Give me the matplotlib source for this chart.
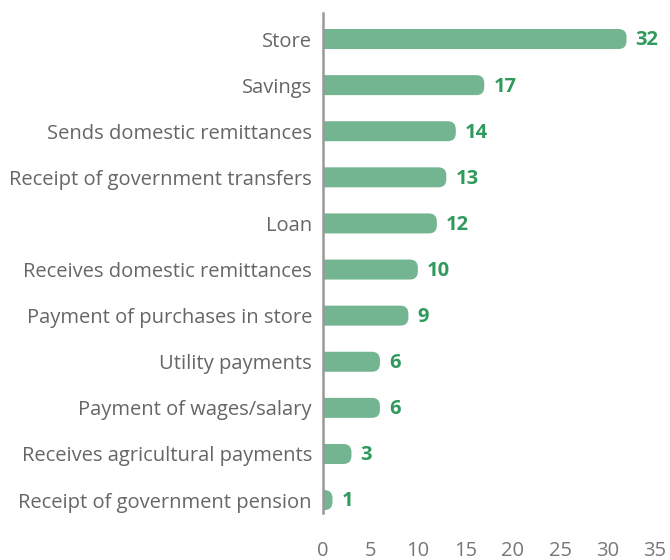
import numpy as np
import matplotlib
matplotlib.use("Agg")
import matplotlib.pyplot as plt
from matplotlib.path import Path
from matplotlib.patches import PathPatch

categories = [
    "Store",
    "Savings",
    "Sends domestic remittances",
    "Receipt of government transfers",
    "Loan",
    "Receives domestic remittances",
    "Payment of purchases in store",
    "Utility payments",
    "Payment of wages/salary",
    "Receives agricultural payments",
    "Receipt of government pension",
]
values = [32, 17, 14, 13, 12, 10, 9, 6, 6, 3, 1]
xticks = [0, 5, 10, 15, 20, 25, 30, 35]

BAR_COLOR = "#74b591"
VALUE_COLOR = "#2f9a5c"
LABEL_COLOR = "#666666"
TICK_COLOR = "#777777"
FONT = ["Open Sans", "DejaVu Sans"]

W, H, DPI = 670, 560, 100
fig = plt.figure(figsize=(W / DPI, H / DPI), dpi=DPI)
left, right = 323 / W, 655 / W
bottom, top = 1 - 513 / H, 1 - 13 / H
ax = fig.add_axes([left, bottom, right - left, top - bottom])

n = len(categories)
ypos = np.arange(n)
xmin, xmax = 0, 35
ymin, ymax = n - 1 + 0.28, -0.564
ax.set_xlim(xmin, xmax)
ax.set_ylim(ymin, ymax)

# pixel-per-unit factors for corner radii
ax_w_px = (right - left) * W
ax_h_px = (top - bottom) * H
px_x = ax_w_px / (xmax - xmin)
px_y = ax_h_px / abs(ymin - ymax)

bar_h = 20 / px_y
r_px = 8
for y, v in zip(ypos, values):
    rx = min(r_px / px_x, v * 0.9)
    ry = r_px / px_y
    y0, y1 = y - bar_h / 2, y + bar_h / 2
    verts = [
        (0, y0), (v - rx, y0), (v, y0), (v, y0 + ry),
        (v, y1 - ry), (v, y1), (v - rx, y1), (0, y1), (0, y0),
    ]
    codes = [
        Path.MOVETO, Path.LINETO, Path.CURVE3, Path.CURVE3,
        Path.LINETO, Path.CURVE3, Path.CURVE3, Path.LINETO, Path.CLOSEPOLY,
    ]
    ax.add_patch(PathPatch(Path(verts, codes), facecolor=BAR_COLOR,
                           edgecolor="none", zorder=2))
    ax.annotate(f"{v}", xy=(v, y), xytext=(6.5, -1), textcoords="offset points",
                va="center", ha="left", fontsize=14.5, fontweight="bold",
                color=VALUE_COLOR, family=FONT)

ax.set_yticks(ypos)
ax.set_yticklabels(categories, family=FONT, fontsize=14.5, color=LABEL_COLOR)
ax.set_xticks(xticks)
ax.set_xticklabels([str(t) for t in xticks], family=FONT, fontsize=14.5,
                   color=TICK_COLOR)
ax.tick_params(axis="both", length=0)
ax.tick_params(axis="y", pad=8)
ax.tick_params(axis="x", pad=20)

for s in ["top", "right", "bottom"]:
    ax.spines[s].set_visible(False)
ax.spines["left"].set_color("#999999")
ax.spines["left"].set_linewidth(1.8)
ax.spines["left"].set_zorder(3)

fig.savefig("out.png", dpi=DPI)
